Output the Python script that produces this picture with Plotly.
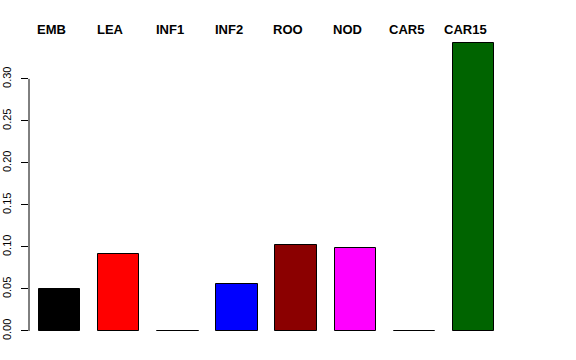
import plotly.graph_objects as go

categories = ["EMB", "LEA", "INF1", "INF2", "ROO", "NOD", "CAR5", "CAR15"]
values = [0.0497, 0.092, 0.0, 0.0563, 0.1027, 0.0988, 0.0, 0.343]
colors = ["#000000", "#FF0000", "#00CD00", "#0000FF", "#8B0000", "#FF00FF", "#00FFFF", "#006400"]
tick_vals = [0.00, 0.05, 0.10, 0.15, 0.20, 0.25, 0.30]
tick_text = ["0.00", "0.05", "0.10", "0.15", "0.20", "0.25", "0.30"]

xpos = list(range(len(categories)))

fig = go.Figure()
fig.add_trace(go.Bar(
    x=xpos, y=values, width=0.70,
    marker=dict(color=colors, line=dict(color="#000000", width=1)),
    showlegend=False, hoverinfo="skip",
))

for i, name in enumerate(categories):
    fig.add_annotation(
        x=i, y=1, xref="x", yref="paper", text="<b>%s</b>" % name,
        showarrow=False, xanchor="center", yanchor="middle",
        xshift=-8, yshift=1.5,
        font=dict(family="Liberation Sans, Arial, sans-serif", size=13, color="#000000"),
    )

# R-style axis line spanning only the tick range
fig.add_shape(type="line", xref="paper", yref="y", x0=0, x1=0, y0=0, y1=0.30,
              line=dict(color="#000000", width=1))

fig.update_layout(
    width=576, height=360,
    margin=dict(l=29, r=56, t=31, b=17, autoexpand=False),
    paper_bgcolor="white", plot_bgcolor="white",
    bargap=0,
    xaxis=dict(range=[-0.515, 7.783], visible=False, fixedrange=True, automargin=False),
    yaxis=dict(
        range=[-0.01429, 0.357], automargin=False,
        tickvals=tick_vals, ticktext=tick_text,
        ticks="outside", ticklen=7, tickcolor="#000000", tickwidth=1,
        tickangle=-90, showgrid=False, zeroline=False, showline=False,
        ticklabelstandoff=6,
        tickfont=dict(family="Liberation Sans, Arial, sans-serif", size=11, color="#000000"),
    ),
)

fig.write_html("out.html")
